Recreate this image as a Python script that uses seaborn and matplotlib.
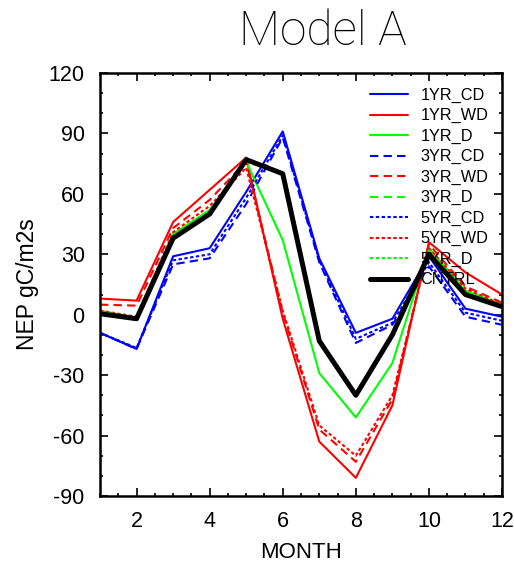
import matplotlib
matplotlib.use("Agg")
import matplotlib.pyplot as plt
import seaborn as sns
import numpy as np
import pandas as pd
from matplotlib.ticker import MultipleLocator

months = [1, 2, 3, 4, 5, 6, 7, 8, 9, 10, 11, 12]

yr1_cd = [-9, -17, 29, 33, 61, 91, 28, -9, -2, 29, 3, -1]
yr1_wd = [8, 7, 46, 62, 78, -2, -63, -81, -45, 36, 21, 10]
yr1_d = [2, -1.5, 40, 52, 76, 37, -29, -51, -24, 33, 12, 5]
yr3_cd = [-9, -17, 25, 28, 55, 88, 26, -14, -5, 24, -1, -5]
yr3_wd = [5, 4.5, 43, 57, 76, 1, -57, -73, -42, 35, 14, 6]
yr3_d = [1, -2, 39, 51, 77, 70, -12, -39, -10, 31, 11, 5]
yr5_cd = [-9, -16.5, 27, 30, 58, 89, 27, -12, -4, 26, 1, -3]
yr5_wd = [2, -1, 41, 54, 73, 2, -55, -70, -40, 33, 13, 5]
yr5_d = [1.5, -1.5, 39, 51, 76, 70, -12, -39, -10, 32, 11, 5]
cntrl = [0.5, -2, 38, 50, 77, 70, -13, -40, -10, 30, 10, 4]

series_names = ["1YR_CD", "1YR_WD", "1YR_D", "3YR_CD", "3YR_WD", "3YR_D",
                "5YR_CD", "5YR_WD", "5YR_D", "CNTRL"]
series_values = [yr1_cd, yr1_wd, yr1_d, yr3_cd, yr3_wd, yr3_d,
                 yr5_cd, yr5_wd, yr5_d, cntrl]

sns.set_style("ticks")
plt.rcParams["font.family"] = ["Liberation Sans", "DejaVu Sans"]
plt.rcParams["axes.unicode_minus"] = False
for k in ["text.color", "axes.labelcolor", "xtick.color", "ytick.color",
          "axes.edgecolor"]:
    plt.rcParams[k] = "black"

colors = {"CD": "#0000ff", "WD": "#ff0000", "D": "#00ff00"}
dashed = (0, (4, 2.5))
dotted = (0, (1.6, 1.2))

fig = plt.figure(figsize=(5.14, 5.66), dpi=100)
ax = fig.add_axes([0.1946, 0.1237, 0.7821, 0.7473])

for name, vals in zip(series_names, series_values):
    if name == "CNTRL":
        color, ls, lw = "black", "-", 3.6
    else:
        yr, kind = name.split("_")
        color = colors[kind]
        ls = {"1YR": "-", "3YR": dashed, "5YR": dotted}[yr]
        lw = 1.5
    df = pd.DataFrame({"MONTH": months, "NEP": vals})
    sns.lineplot(data=df, x="MONTH", y="NEP", ax=ax, color=color,
                 linestyle=ls, linewidth=lw, label=name)

ax.set_xlim(1, 12)
ax.set_ylim(-90, 120)
ax.xaxis.set_major_locator(MultipleLocator(2))
ax.xaxis.set_minor_locator(MultipleLocator(0.5))
ax.yaxis.set_major_locator(MultipleLocator(30))
ax.yaxis.set_minor_locator(MultipleLocator(10))
ax.tick_params(which="both", direction="in", top=True, right=True,
               labelsize=15.5, width=1.2)
ax.tick_params(which="major", length=5.5, pad=11)
ax.tick_params(which="minor", length=2.5)
for s in ax.spines.values():
    s.set_linewidth(1.8)

ax.set_xlabel("MONTH", fontsize=16, labelpad=7)
ax.set_ylabel("NEP gC/m2s", fontsize=16.5, labelpad=7)

fig.text(0.628, 0.943, "Model A", fontsize=34.5, ha="center", va="center",
         family=["Roboto", "DejaVu Sans"], fontweight="light")

leg = ax.legend(loc="upper left", bbox_to_anchor=(0.672, 0.965),
                frameon=False, fontsize=11.7, handlelength=2.35,
                handletextpad=0.75, labelspacing=0.33, borderpad=0,
                borderaxespad=0)

fig.savefig("out.png", dpi=100)
